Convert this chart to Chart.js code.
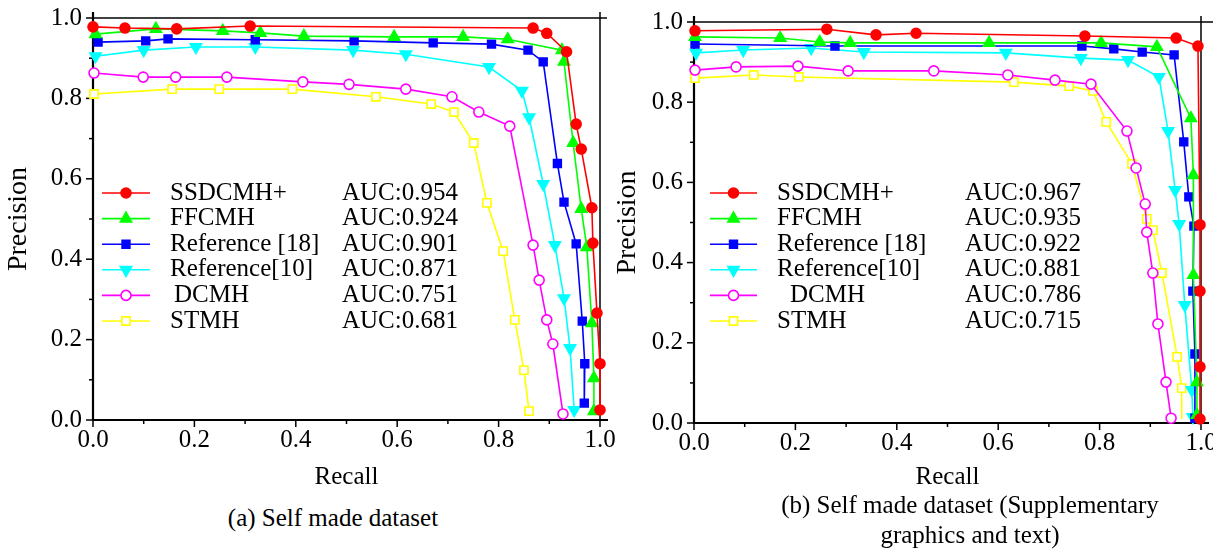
<!DOCTYPE html>
<html>
<head>
<meta charset="utf-8">
<script src="https://cdn.jsdelivr.net/npm/chart.js@4.4.1/dist/chart.umd.min.js"></script>
<style>
  body { margin: 0; background: #fff; width: 1213px; height: 550px; position: relative; overflow: hidden;
         font-family: 'Liberation Serif', 'Times New Roman', serif; color: #000; }
  canvas { position: absolute; top: 0; }
  #chart-a { left: 0; }
  #chart-b { left: 606px; }
  .caption { position: absolute; font-size: 25px; line-height: 30px; text-align: center; width: 420px; }
</style>
</head>
<body>
<canvas id="chart-a" width="640" height="492"></canvas>
<canvas id="chart-b" width="607" height="492"></canvas>
<div class="caption" style="left:123px; top:503px;">(a) Self made dataset</div>
<div class="caption" style="left:760px; top:490px;">(b) Self made dataset (Supplementary<br>graphics and text)</div>

<script>
// ------------------------------------------------------------
// PR curves — two datasets, six methods each
// ------------------------------------------------------------

const methodNames = ['SSDCMH+', 'FFCMH', 'Reference [18]', 'Reference[10]', 'DCMH', 'STMH'];
const aucA = [0.954, 0.924, 0.901, 0.871, 0.751, 0.681];
const aucB = [0.967, 0.935, 0.922, 0.881, 0.786, 0.715];
const tickValues = [0, 0.2, 0.4, 0.6, 0.8, 1.0];

// (a) self made dataset
const ssdRecallA = [0, 0.063, 0.165, 0.31, 0.868, 0.895, 0.934, 0.953, 0.963, 0.984, 0.986, 0.994, 1.0, 1.0];
const ssdPrecA   = [0.978, 0.975, 0.973, 0.98, 0.975, 0.962, 0.916, 0.736, 0.674, 0.528, 0.44, 0.266, 0.14, 0.025];
const ffRecallA  = [0.005, 0.124, 0.256, 0.33, 0.416, 0.594, 0.73, 0.818, 0.925, 0.929, 0.947, 0.963, 0.974, 0.984, 0.988, 0.988];
const ffPrecA    = [0.96, 0.973, 0.968, 0.963, 0.955, 0.953, 0.953, 0.947, 0.92, 0.891, 0.689, 0.525, 0.43, 0.241, 0.104, 0.022];
const r18RecallA = [0.01, 0.104, 0.148, 0.32, 0.515, 0.671, 0.786, 0.858, 0.888, 0.916, 0.929, 0.953, 0.965, 0.97, 0.969];
const r18PrecA   = [0.94, 0.943, 0.948, 0.946, 0.943, 0.938, 0.935, 0.92, 0.891, 0.638, 0.542, 0.438, 0.246, 0.14, 0.042];
const r10RecallA = [0.005, 0.1, 0.203, 0.32, 0.513, 0.617, 0.781, 0.846, 0.86, 0.888, 0.911, 0.929, 0.941, 0.949];
const r10PrecA   = [0.905, 0.92, 0.928, 0.928, 0.92, 0.91, 0.878, 0.819, 0.753, 0.587, 0.435, 0.303, 0.179, 0.025];
const dcmhRecallA = [0.002, 0.099, 0.163, 0.264, 0.414, 0.505, 0.617, 0.708, 0.761, 0.822, 0.868, 0.88, 0.895, 0.907, 0.927];
const dcmhPrecA   = [0.863, 0.853, 0.853, 0.853, 0.841, 0.835, 0.823, 0.804, 0.766, 0.731, 0.435, 0.348, 0.249, 0.189, 0.015];
const stmhRecallA = [0.002, 0.156, 0.249, 0.393, 0.558, 0.667, 0.712, 0.751, 0.777, 0.809, 0.832, 0.85, 0.86];
const stmhPrecA   = [0.811, 0.823, 0.823, 0.823, 0.804, 0.786, 0.766, 0.689, 0.54, 0.42, 0.249, 0.124, 0.022];

// (b) self made dataset, supplementary graphics and text
const ssdRecallB = [0.002, 0.262, 0.359, 0.438, 0.771, 0.951, 0.994, 0.998, 0.998, 0.998, 0.998];
const ssdPrecB   = [0.978, 0.982, 0.968, 0.972, 0.965, 0.96, 0.94, 0.494, 0.329, 0.14, 0.01];
const ffRecallB  = [0.002, 0.17, 0.248, 0.308, 0.582, 0.803, 0.913, 0.98, 0.985, 0.985, 0.992, 0.992];
const ffPrecB    = [0.963, 0.96, 0.95, 0.948, 0.948, 0.948, 0.938, 0.76, 0.618, 0.369, 0.102, 0.02];
const r18RecallB = [0.002, 0.278, 0.765, 0.828, 0.884, 0.947, 0.966, 0.976, 0.986, 0.984, 0.988, 0.988];
const r18PrecB   = [0.945, 0.94, 0.94, 0.933, 0.925, 0.918, 0.701, 0.564, 0.491, 0.329, 0.172, 0.012];
const r10RecallB = [0.004, 0.097, 0.231, 0.335, 0.615, 0.763, 0.856, 0.917, 0.935, 0.949, 0.957, 0.968, 0.982, 0.984];
const r10PrecB   = [0.923, 0.93, 0.935, 0.925, 0.923, 0.91, 0.905, 0.863, 0.728, 0.581, 0.496, 0.294, 0.082, 0.015];
const dcmhRecallB = [0.002, 0.083, 0.205, 0.304, 0.473, 0.619, 0.712, 0.783, 0.854, 0.872, 0.89, 0.893, 0.905, 0.915, 0.931, 0.941];
const dcmhPrecB   = [0.88, 0.888, 0.89, 0.878, 0.878, 0.868, 0.855, 0.845, 0.728, 0.636, 0.546, 0.476, 0.374, 0.247, 0.102, 0.012];
const stmhRecallB = [0.002, 0.118, 0.207, 0.631, 0.74, 0.787, 0.813, 0.864, 0.893, 0.905, 0.923, 0.953, 0.962, 0.962];
const stmhPrecB   = [0.86, 0.868, 0.863, 0.85, 0.84, 0.828, 0.751, 0.646, 0.509, 0.481, 0.374, 0.165, 0.087, 0.01];

const FONT = "'Liberation Serif', 'Times New Roman', serif";

// marker / line look per method
const seriesStyles = [
  { color: '#ff0000', fill: '#ff0000', pointStyle: 'circle',   radius: 5,   rotation: 0 },
  { color: '#00ff00', fill: '#00ff00', pointStyle: 'triangle', radius: 6.5, rotation: 0 },
  { color: '#0000ff', fill: '#0000ff', pointStyle: 'rect',     radius: 5.5, rotation: 0 },
  { color: '#00ffff', fill: '#00ffff', pointStyle: 'triangle', radius: 6.5, rotation: 180 },
  { color: '#ff00ff', fill: '#ffffff', pointStyle: 'circle',   radius: 5,   rotation: 0 },
  { color: '#ffff00', fill: '#ffffff', pointStyle: 'rect',     radius: 5.8, rotation: 0 },
];

function toPoints(xs, ys) {
  return xs.map((x, i) => ({ x, y: ys[i] }));
}

function makeDatasets(series, bareTail) {
  return series.map(([xs, ys], i) => {
    const s = seriesStyles[i];
    const last = xs.length - 1;
    return {
      label: methodNames[i],
      data: toPoints(xs, ys),
      borderColor: s.color,
      backgroundColor: s.fill,
      borderWidth: 1.6,
      tension: 0,
      fill: false,
      clip: false,
      pointStyle: s.pointStyle,
      pointRotation: s.rotation,
      // some curves run on to the axis without a marker at the end
      pointRadius: ctx => (bareTail[i] && ctx.dataIndex === last ? 0 : s.radius),
      pointBackgroundColor: s.fill,
      pointBorderColor: s.color,
      pointBorderWidth: 1.6,
    };
  });
}

function strokeLine(ctx, x1, y1, x2, y2) {
  ctx.beginPath();
  ctx.moveTo(x1, y1);
  ctx.lineTo(x2, y2);
  ctx.stroke();
}

// axes box with outward ticks every 0.1 (long ones at labelled values)
const framePlugin = {
  id: 'frame',
  beforeDatasetsDraw(chart, args, opts) {
    const { ctx, chartArea: { left, right, top, bottom }, scales: { x, y } } = chart;
    ctx.save();
    ctx.strokeStyle = '#000';
    ctx.lineWidth = 1.5;
    for (let i = 0; i <= 10; i++) {
      const len = i % 2 === 0 ? 7 : 4;
      const px = x.getPixelForValue(i / 10);
      const py = y.getPixelForValue(i / 10);
      strokeLine(ctx, px, bottom, px, bottom + len);
      strokeLine(ctx, left - len, py, left, py);
    }
    // top and right edges overshoot the corner a little
    ctx.lineWidth = 1.5;
    strokeLine(ctx, left, top, right + opts.overshoot, top);
    strokeLine(ctx, right, top - 6, right, bottom);
    ctx.lineWidth = 2.2;
    strokeLine(ctx, left, top - 6, left, bottom + 1);
    strokeLine(ctx, left - 1, bottom, right + 8, bottom);
    ctx.restore();
  }
};

// legend sitting inside the plot, with an AUC column
const insideLegend = {
  id: 'insideLegend',
  afterDatasetsDraw(chart, args, opts) {
    const { ctx, chartArea } = chart;
    ctx.save();
    ctx.font = `25px ${FONT}`;
    ctx.textBaseline = 'middle';
    chart.data.datasets.forEach((ds, i) => {
      const s = seriesStyles[i];
      const y = chartArea.top + opts.rowTop + i * opts.rowGap;
      const x0 = chartArea.left + opts.lineStart;
      const x1 = x0 + opts.lineLength;
      ctx.strokeStyle = s.color;
      ctx.lineWidth = 1.6;
      strokeLine(ctx, x0, y, x1, y);
      ctx.fillStyle = s.fill;
      Chart.helpers.drawPoint(ctx, {
        pointStyle: s.pointStyle, radius: s.radius, rotation: s.rotation, borderWidth: 1.6
      }, (x0 + x1) / 2, y);
      ctx.fillStyle = '#000';
      ctx.textAlign = 'left';
      ctx.fillText(ds.label, chartArea.left + opts.textX + (opts.indent[i] || 0), y);
      ctx.fillText('AUC:' + opts.auc[i].toFixed(3), chartArea.left + opts.aucX, y);
    });
    ctx.restore();
  }
};

// keep the plot box exactly where it belongs: no extra room for edge labels
function pinScale(s, size) {
  if (s.isHorizontal()) s.height = size; else s.width = size;
  s.paddingLeft = 0;
  s.paddingRight = 0;
  s.paddingTop = 0;
  s.paddingBottom = 0;
}

function makeChart(canvasId, datasets, cfg) {
  const tickFont = { family: FONT, size: 25 };
  return new Chart(document.getElementById(canvasId), {
    type: 'line',
    data: { datasets },
    plugins: [framePlugin, insideLegend],
    options: {
      responsive: false,
      animation: false,
      devicePixelRatio: 1,
      layout: { padding: { top: cfg.padTop, right: cfg.padRight, left: 0, bottom: 0 } },
      plugins: {
        legend: { display: false },
        tooltip: { enabled: false },
        frame: { overshoot: cfg.overshoot },
        insideLegend: cfg.legend,
      },
      scales: {
        x: {
          type: 'linear',
          min: 0, max: 1,
          afterBuildTicks: s => { s.ticks = tickValues.map(value => ({ value })); },
          afterFit: s => pinScale(s, cfg.xHeight),
          grid: { display: false, drawTicks: false },
          border: { display: false },
          ticks: { font: tickFont, color: '#000', padding: 5, maxRotation: 0, callback: v => v.toFixed(1) },
          title: { display: true, text: 'Recall', color: '#000', font: tickFont, padding: { top: 0, bottom: cfg.xTitlePad } },
        },
        y: {
          min: 0, max: 1,
          afterBuildTicks: s => { s.ticks = tickValues.map(value => ({ value })); },
          afterFit: s => pinScale(s, cfg.yWidth),
          grid: { display: false, drawTicks: false },
          border: { display: false },
          ticks: { font: tickFont, color: '#000', padding: 11, callback: v => v.toFixed(1) },
          title: { display: true, text: 'Precision', color: '#000', font: { family: FONT, size: 28 },
                   padding: { top: cfg.yTitlePad, bottom: 0 } },
        },
      },
    },
  });
}

makeChart('chart-a', makeDatasets([
  [ssdRecallA, ssdPrecA], [ffRecallA, ffPrecA], [r18RecallA, r18PrecA],
  [r10RecallA, r10PrecA], [dcmhRecallA, dcmhPrecA], [stmhRecallA, stmhPrecA],
], [false, false, false, false, false, false]), {
  padTop: 18, padRight: 40, yWidth: 93, xHeight: 72, xTitlePad: 0, yTitlePad: 2, overshoot: 7,
  legend: { rowTop: 175, rowGap: 25.6, lineStart: 9, lineLength: 48, textX: 77, aucX: 249,
            indent: [0, 0, 0, 0, 4, 0], auc: aucA },
});

makeChart('chart-b', makeDatasets([
  [ssdRecallB, ssdPrecB], [ffRecallB, ffPrecB], [r18RecallB, r18PrecB],
  [r10RecallB, r10PrecB], [dcmhRecallB, dcmhPrecB], [stmhRecallB, stmhPrecB],
], [false, false, false, false, false, true]), {
  padTop: 22, padRight: 12, yWidth: 88, xHeight: 69, xTitlePad: 0, yTitlePad: 5, overshoot: 12,
  legend: { rowTop: 171, rowGap: 25.6, lineStart: 16, lineLength: 47, textX: 83, aucX: 271,
            indent: [0, 0, 0, 0, 13, 0], auc: aucB },
});
</script>
</body>
</html>
